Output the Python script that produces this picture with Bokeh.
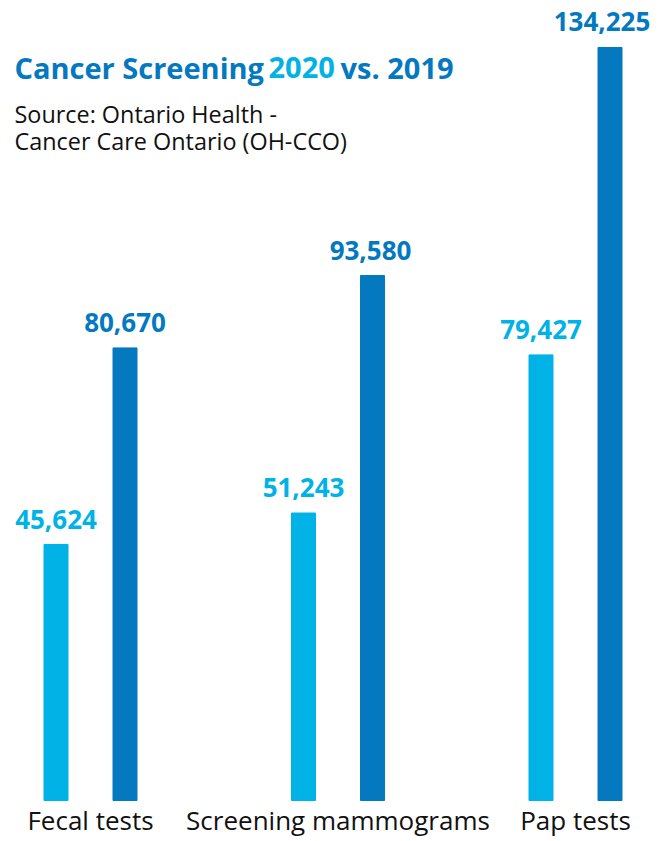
from bokeh.plotting import figure
from bokeh.models import ColumnDataSource, Range1d, Label, LabelSet
from bokeh.core.properties import value
from bokeh.embed import file_html
from bokeh.resources import INLINE

# ---- data ----
categories = ["Fecal tests", "Screening mammograms", "Pap tests"]
values_2020 = [45624, 51243, 79427]
values_2019 = [80670, 93580, 134225]

# ---- layout / style ----
W, H = 669, 841
group_pos = [90, 337.5, 575]     # group centres (px along x range)
dodge = 34.5
bar_w = 24
UNIT = 178.25                    # data units per pixel
BASE = 41                        # px from bottom to bar baseline
LIGHT = "#00B2E5"
DARK = "#0479C0"
FONT = "Open Sans"

p = figure(width=W, height=H, output_backend="svg", toolbar_location=None,
           x_range=Range1d(0, W), y_range=Range1d(-BASE * UNIT, (H - BASE) * UNIT),
           min_border=0)
p.axis.visible = False
p.grid.visible = False
p.outline_line_color = None
p.background_fill_color = "white"
p.border_fill_color = "white"

def fmt(v):
    return f"{v:,}"

src20 = ColumnDataSource(dict(x=[g - dodge for g in group_pos], top=values_2020,
                              label=[fmt(v) for v in values_2020],
                              xoff=[0, 0, 0]))
src19 = ColumnDataSource(dict(x=[g + dodge for g in group_pos], top=values_2019,
                              label=[fmt(v) for v in values_2019],
                              xoff=[0, -2, -8]))

p.vbar(x="x", top="top", bottom=0, width=bar_w, source=src20, color=LIGHT)
p.vbar(x="x", top="top", bottom=0, width=bar_w, source=src19, color=DARK)

for src, col in ((src20, LIGHT), (src19, DARK)):
    p.add_layout(LabelSet(x="x", y="top", text="label", source=src, y_offset=16,
                          x_offset="xoff",
                          text_align="center", text_baseline="alphabetic",
                          text_font=value(FONT), text_font_style="bold",
                          text_font_size="26px", text_color=col))

catsrc = ColumnDataSource(dict(x=group_pos, label=categories, y=[0, 0, 0]))
p.add_layout(LabelSet(x="x", y="y", text="label", source=catsrc, y_offset=-29,
                      text_align="center", text_baseline="alphabetic",
                      text_font=value(FONT), text_font_size="26px", text_color="#111111"))

# title pieces
for txt, x, col in (("Cancer Screening", 14, DARK), ("2020", 268, LIGHT), ("vs. 2019", 340, DARK)):
    p.add_layout(Label(x=x, y=H - 67, x_units="screen", y_units="screen", text=txt,
                       text_font=FONT, text_font_style="bold", text_font_size="29px",
                       text_color=col, text_baseline="alphabetic"))

for txt, yy in (("Source: Ontario Health -", 113), ("Cancer Care Ontario (OH-CCO)", 140)):
    p.add_layout(Label(x=14, y=H - yy, x_units="screen", y_units="screen", text=txt,
                       text_font=FONT, text_font_size="23.4px", text_color="#111111",
                       text_baseline="alphabetic"))

open("out.html", "w").write(file_html(p, INLINE))
